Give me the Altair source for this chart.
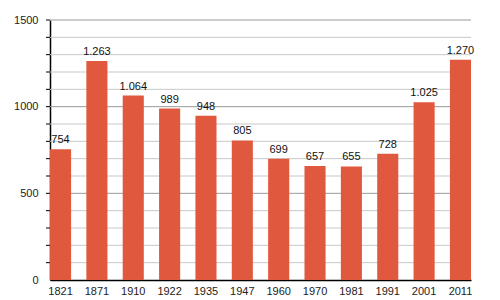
import altair as alt
import pandas as pd

years = ["1821", "1871", "1910", "1922", "1935", "1947", "1960", "1970", "1981", "1991", "2001", "2011"]
population = [754, 1263, 1064, 989, 948, 805, 699, 657, 655, 728, 1025, 1270]
grid_values = [100, 200, 300, 400, 500, 600, 700, 800, 900, 1000, 1100, 1200, 1300, 1400, 1500]
grid_kind = ["minor", "minor", "minor", "minor", "major", "minor", "minor", "minor", "minor", "major",
             "minor", "minor", "minor", "minor", "major"]
label_values = [0, 500, 1000, 1500]

df = pd.DataFrame({"year": years, "pop": population})
grid_df = pd.DataFrame({"v": grid_values, "kind": grid_kind})

FONT = "Liberation Sans"

x = alt.X("year:N", sort=None, title=None,
          scale=alt.Scale(paddingInner=0.42, paddingOuter=0),
          axis=alt.Axis(labelAngle=0, ticks=False, domainColor="#000000", domainWidth=1.5,
                        labelColor="#222222", labelFontSize=11, labelFont=FONT, labelPadding=5))

y_scale = alt.Scale(domain=[0, 1500], nice=False, zero=True)
y_axis = alt.Axis(values=label_values, format="d", grid=False, ticks=False,
                  domainColor="#000000", domainWidth=1.5,
                  labelColor="#222222", labelFontSize=11, labelFont=FONT, labelPadding=12)

grid = alt.Chart(grid_df).mark_rule(strokeWidth=1).encode(
    y=alt.Y("v:Q", title=None, scale=y_scale, axis=y_axis),
    color=alt.Color("kind:N", legend=None,
                    scale=alt.Scale(domain=["major", "minor"], range=["#9a9a9a", "#c8c8c8"])),
)

ticks = alt.Chart(grid_df).mark_rule(strokeWidth=1, color="#000000").encode(
    y=alt.Y("v:Q", title=None, scale=y_scale, axis=y_axis),
    x=alt.value(-4), x2=alt.value(0),
)

base = alt.Chart(df).encode(x=x, y=alt.Y("pop:Q", title=None, scale=y_scale, axis=y_axis))

bars = base.mark_bar(color="#E0583E")

labels = base.transform_calculate(
    lbl="replace(format(datum.pop, ','), ',', '.')"
).mark_text(baseline="bottom", dy=-4, fontSize=11, font=FONT, color="#111111").encode(text="lbl:N")

chart = alt.layer(grid, ticks, bars, labels).properties(
    width=421, height=260,
    autosize=alt.AutoSizeParams(type="none"),
    padding={"left": 50, "top": 20, "right": 29, "bottom": 20},
).configure_view(stroke=None)

chart.save("out.html", embed_options={"renderer": "svg", "actions": False})
